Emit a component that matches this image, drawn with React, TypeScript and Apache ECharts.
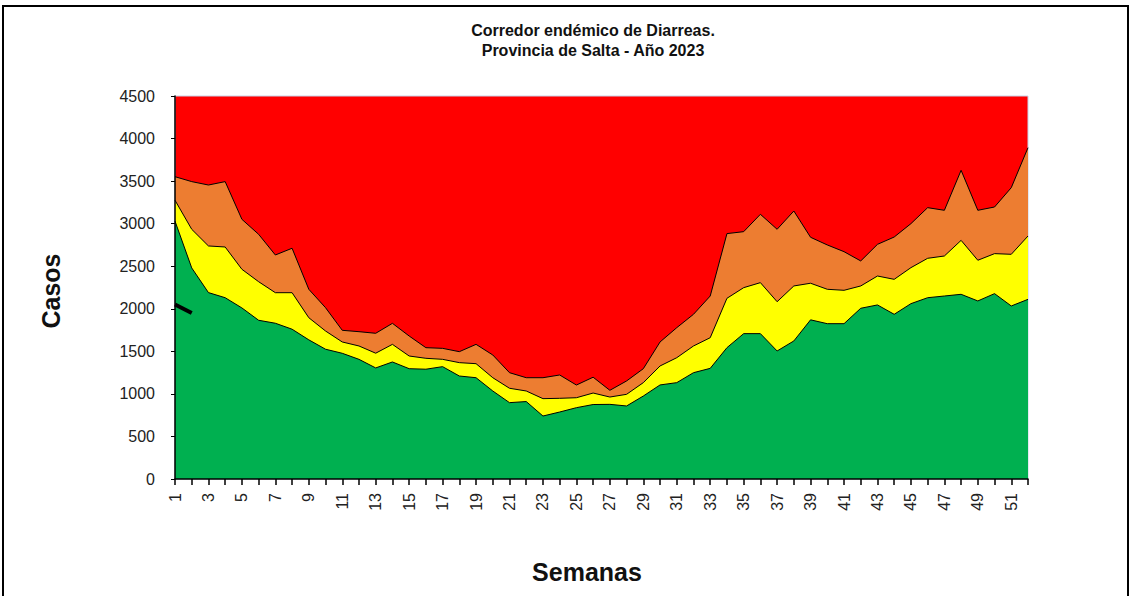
import React, { useEffect, useRef } from "react";
import * as echarts from "echarts";

const weeks: string[] = Array.from({ length: 52 }, (_, i) => String(i + 1));

// Upper limit of the "éxito" (green) zone – first quartile
const zonaExito: number[] = [
  3030, 2480, 2190, 2130, 2010, 1865, 1830, 1760, 1635, 1525, 1477, 1406, 1305,
  1375, 1296, 1290, 1320, 1210, 1190, 1034, 897, 910, 740, 787, 838, 875,
  877, 858, 975, 1105, 1132, 1249, 1300, 1543, 1708, 1708, 1504, 1622, 1870,
  1825, 1825, 2006, 2045, 1935, 2060, 2130, 2150, 2170, 2092, 2178, 2033, 2111,
];

// Upper limit of the "seguridad" (yellow) zone – median
const zonaSeguridad: number[] = [
  3275, 2934, 2738, 2726, 2464, 2318, 2189, 2189, 1895, 1739, 1610, 1563, 1478,
  1582, 1445, 1418, 1406, 1367, 1355, 1190, 1066, 1034, 944, 948, 955, 1010,
  963, 995, 1132, 1328, 1425, 1563, 1660, 2123, 2248, 2307, 2083, 2268, 2300,
  2229, 2217, 2268, 2385, 2346, 2483, 2593, 2620, 2804, 2570, 2648, 2640, 2855,
];

// Upper limit of the "alerta" (orange) zone – third quartile
const zonaAlerta: number[] = [
  3552, 3494, 3454, 3494, 3051, 2875, 2632, 2711, 2229, 2013, 1747, 1731, 1712,
  1829, 1680, 1543, 1535, 1496, 1582, 1457, 1249, 1190, 1190, 1222, 1104, 1196,
  1042, 1152, 1296, 1610, 1778, 1935, 2150, 2883, 2906, 3110, 2934, 3149, 2840,
  2750, 2671, 2562, 2757, 2843, 3000, 3188, 3157, 3627, 3157, 3196, 3423, 3893,
];

// Cases 2023 (only first weeks reported)
const casos2023: number[] = [2050, 1950];

const yTicks = { min: 0, max: 4500, interval: 500 };

export default function App() {
  const ref = useRef<HTMLDivElement>(null);

  useEffect(() => {
    if (!ref.current) return;
    const chart = echarts.init(ref.current, undefined, { renderer: "svg" });
    const font = "'Liberation Sans', Arial, sans-serif";
    const areaLine = { color: "#000", width: 1 };
    chart.setOption({
      animation: false,
      backgroundColor: "#ffffff",
      textStyle: { fontFamily: font },
      grid: {
        left: 175,
        right: 104,
        top: 96,
        bottom: 117,
        show: true,
        backgroundColor: "#FF0000",
        borderColor: "#c8d2e6",
        borderWidth: 1,
      },
      xAxis: {
        type: "category",
        data: weeks,
        boundaryGap: false,
        axisLine: { show: true, lineStyle: { color: "#000", width: 1.5 } },
        axisTick: { show: true, interval: 0, length: 6, lineStyle: { color: "#000", width: 1.5 } },
        axisLabel: {
          interval: 1,
          rotate: 90,
          margin: 14,
          fontSize: 16,
          color: "#222",
          fontFamily: font,
        },
        splitLine: { show: false },
        z: 10,
      },
      yAxis: {
        type: "value",
        min: yTicks.min,
        max: yTicks.max,
        interval: yTicks.interval,
        axisLine: { show: true, lineStyle: { color: "#000", width: 1.5 } },
        axisTick: { show: true, length: 4, lineStyle: { color: "#000" } },
        axisLabel: {
          margin: 20,
          fontSize: 16,
          color: "#222",
          fontFamily: font,
          formatter: (v: number) => String(v),
        },
        splitLine: { show: false },
        z: 10,
      },
      series: [
        {
          name: "Alerta",
          type: "line",
          data: zonaAlerta,
          symbol: "none",
          lineStyle: areaLine,
          areaStyle: { color: "#ED7D31", opacity: 1 },
          z: 2,
        },
        {
          name: "Seguridad",
          type: "line",
          data: zonaSeguridad,
          symbol: "none",
          lineStyle: areaLine,
          areaStyle: { color: "#FFFF00", opacity: 1 },
          z: 3,
        },
        {
          name: "Éxito",
          type: "line",
          data: zonaExito,
          symbol: "none",
          lineStyle: areaLine,
          areaStyle: { color: "#00B050", opacity: 1 },
          z: 4,
        },
        {
          name: "2023",
          type: "line",
          data: casos2023,
          symbol: "none",
          lineStyle: { color: "#000", width: 4 },
          z: 5,
        },
      ],
      graphic: [
        {
          type: "rect",
          shape: { x: 3, y: 6, width: 1125, height: 620 },
          style: { fill: "none", stroke: "#000", lineWidth: 2 },
          silent: true,
        },
        {
          type: "text",
          x: 593,
          y: 30,
          style: {
            text: "Corredor endémico de Diarreas.",
            fontSize: 16,
            fontWeight: "bold",
            fontFamily: font,
            fill: "#111",
            align: "center",
            verticalAlign: "middle",
          },
        },
        {
          type: "text",
          x: 593,
          y: 50,
          style: {
            text: "Provincia de Salta - Año 2023",
            fontSize: 16,
            fontWeight: "bold",
            fontFamily: font,
            fill: "#111",
            align: "center",
            verticalAlign: "middle",
          },
        },
        {
          type: "text",
          x: 51,
          y: 291,
          rotation: Math.PI / 2,
          style: {
            text: "Casos",
            fontSize: 25,
            fontWeight: "bold",
            fontFamily: font,
            fill: "#111",
            align: "center",
            verticalAlign: "middle",
          },
        },
        {
          type: "text",
          x: 587,
          y: 572,
          style: {
            text: "Semanas",
            fontSize: 25,
            fontWeight: "bold",
            fontFamily: font,
            fill: "#111",
            align: "center",
            verticalAlign: "middle",
          },
        },
      ],
    });
    return () => chart.dispose();
  }, []);

  return (
    <div
      ref={ref}
      style={{ position: "absolute", left: 0, top: 0, width: 1132, height: 596 }}
    />
  );
}
